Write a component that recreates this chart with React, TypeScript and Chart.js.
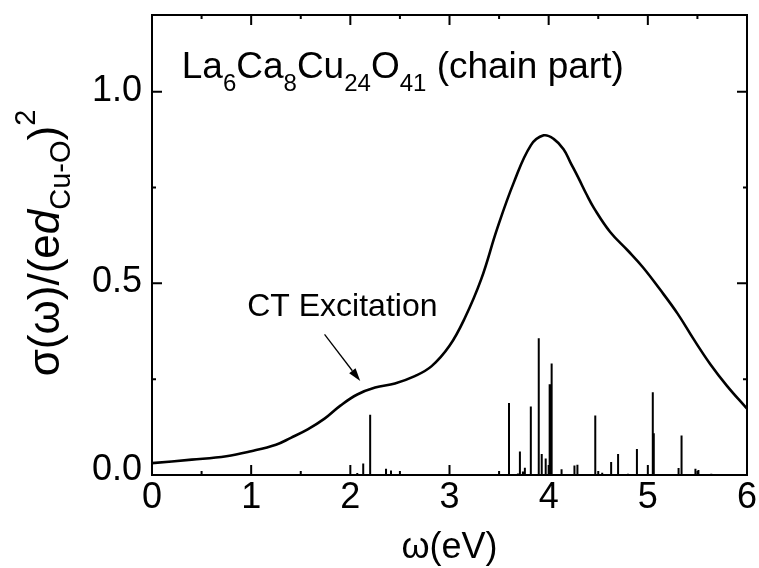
import { useEffect, useRef } from "react";
import { Chart, registerables } from "chart.js";

Chart.register(...registerables);

// Calculated optical conductivity (smooth curve)
const curveX = [0, 0.4, 0.75, 1.0, 1.25, 1.4, 1.57, 1.74, 1.9, 2.07, 2.25, 2.45, 2.65, 2.82, 3.0, 3.15, 3.32, 3.48, 3.65, 3.82, 3.95, 4.05, 4.15, 4.22, 4.3, 4.38, 4.46, 4.62, 4.8, 4.95, 5.12, 5.3, 5.46, 5.63, 5.8, 6.0];
const curveY = [0.031, 0.04, 0.049, 0.062, 0.079, 0.097, 0.119, 0.147, 0.181, 0.21, 0.228, 0.239, 0.258, 0.284, 0.337, 0.407, 0.511, 0.642, 0.764, 0.86, 0.886, 0.877, 0.85, 0.815, 0.775, 0.733, 0.695, 0.634, 0.585, 0.542, 0.485, 0.421, 0.355, 0.289, 0.232, 0.173];

// Oscillator strengths (stick spectrum)
const stickX = [2.07, 2.13, 2.2, 2.36, 2.41, 3.6, 3.69, 3.71, 3.74, 3.76, 3.82, 3.9, 3.93, 3.97, 4.01, 4.03, 4.13, 4.26, 4.29, 4.47, 4.54, 4.63, 4.7, 4.8, 4.89, 5.05, 5.06, 5.31, 5.34, 5.48, 5.51, 5.64, 5.78];
const stickY = [0.005, 0.03, 0.157, 0.016, 0.012, 0.188, 0.004, 0.061, 0.009, 0.019, 0.179, 0.357, 0.055, 0.043, 0.237, 0.291, 0.015, 0.025, 0.027, 0.155, 0.006, 0.034, 0.055, 0.003, 0.068, 0.216, 0.109, 0.018, 0.103, 0.016, 0.013, 0.003, 0.002];

const xTicks = [0, 1, 2, 3, 4, 5, 6];
const yTicks = [0, 0.5, 1.0];

// Annotation anchors (data coordinates)
const ctLabel = { text: "CT Excitation", x: 0.96, y: 0.415 };
const arrowFrom = { x: 1.74, y: 0.367 };
const arrowTo = { x: 2.1, y: 0.245 };
const titleAnchor = { x: 0.3, y: 1.035 };

const FONT = "'Liberation Sans', Arial, Helvetica, sans-serif";

type Part = { t: string; size: number; dy: number; italic?: boolean };

function partsWidth(ctx: CanvasRenderingContext2D, parts: Part[]) {
  let w = 0;
  for (const p of parts) {
    ctx.font = `${p.italic ? "italic " : ""}${p.size}px ${FONT}`;
    w += ctx.measureText(p.t).width;
  }
  return w;
}

function drawParts(ctx: CanvasRenderingContext2D, parts: Part[], x: number, y: number) {
  let cx = x;
  for (const p of parts) {
    ctx.font = `${p.italic ? "italic " : ""}${p.size}px ${FONT}`;
    ctx.fillText(p.t, cx, y + p.dy);
    cx += ctx.measureText(p.t).width;
  }
}

const decor = {
  id: "decor",
  afterDraw(chart: any) {
    const { ctx, chartArea: a } = chart;
    const xs = chart.scales.x;
    const ys = chart.scales.y;
    ctx.save();
    ctx.strokeStyle = "#000";
    ctx.fillStyle = "#000";
    ctx.lineWidth = 2;
    ctx.strokeRect(a.left, a.top, a.right - a.left, a.bottom - a.top);

    // inward ticks
    ctx.beginPath();
    for (let v = 0.5; v < 6; v += 0.5) {
      const px = xs.getPixelForValue(v);
      const len = Number.isInteger(v) ? 10 : 4;
      ctx.moveTo(px, a.bottom);
      ctx.lineTo(px, a.bottom - len);
      ctx.moveTo(px, a.top);
      ctx.lineTo(px, a.top + len);
    }
    for (let v = 0.25; v <= 1.0001; v += 0.25) {
      const py = ys.getPixelForValue(v);
      const len = Math.abs(v * 2 - Math.round(v * 2)) < 1e-6 ? 10 : 4;
      ctx.moveTo(a.left, py);
      ctx.lineTo(a.left + len, py);
      ctx.moveTo(a.right, py);
      ctx.lineTo(a.right - len, py);
    }
    ctx.stroke();

    // tick labels
    ctx.font = `36px ${FONT}`;
    ctx.textAlign = "center";
    ctx.textBaseline = "middle";
    for (const v of xTicks) {
      ctx.fillText(String(v), xs.getPixelForValue(v), a.bottom + 23);
    }
    ctx.textAlign = "right";
    for (const v of yTicks) {
      ctx.fillText(v.toFixed(1), a.left - 10, ys.getPixelForValue(v) - (v === 0 ? 5 : 1));
    }

    // title inside plot
    ctx.textAlign = "left";
    ctx.textBaseline = "alphabetic";
    const tParts: Part[] = [
      { t: "La", size: 37, dy: 0 },
      { t: "6", size: 24, dy: 13 },
      { t: "Ca", size: 37, dy: 0 },
      { t: "8", size: 24, dy: 13 },
      { t: "Cu", size: 37, dy: 0 },
      { t: "24", size: 24, dy: 13 },
      { t: "O", size: 37, dy: 0 },
      { t: "41", size: 24, dy: 13 },
      { t: " (chain part)", size: 37, dy: 0 },
    ];
    drawParts(ctx, tParts, xs.getPixelForValue(titleAnchor.x), ys.getPixelForValue(titleAnchor.y));

    // CT label
    ctx.font = `32px ${FONT}`;
    ctx.fillText(ctLabel.text, xs.getPixelForValue(ctLabel.x), ys.getPixelForValue(ctLabel.y));

    // arrow
    const x1 = xs.getPixelForValue(arrowFrom.x), y1 = ys.getPixelForValue(arrowFrom.y);
    const x2 = xs.getPixelForValue(arrowTo.x), y2 = ys.getPixelForValue(arrowTo.y);
    const ang = Math.atan2(y2 - y1, x2 - x1);
    const hl = 13, hw = 4;
    ctx.lineWidth = 1.3;
    ctx.beginPath();
    ctx.moveTo(x1, y1);
    ctx.lineTo(x2 - hl * Math.cos(ang), y2 - hl * Math.sin(ang));
    ctx.stroke();
    ctx.beginPath();
    ctx.moveTo(x2, y2);
    ctx.lineTo(x2 - hl * Math.cos(ang) + hw * Math.sin(ang), y2 - hl * Math.sin(ang) - hw * Math.cos(ang));
    ctx.lineTo(x2 - hl * Math.cos(ang) - hw * Math.sin(ang), y2 - hl * Math.sin(ang) + hw * Math.cos(ang));
    ctx.closePath();
    ctx.fill();

    // x axis title
    ctx.textAlign = "center";
    ctx.font = `36px ${FONT}`;
    ctx.fillText("ω(eV)", (a.left + a.right) / 2, 558);

    // y axis title (rotated)
    const yParts: Part[] = [
      { t: "σ(ω)/(e", size: 44, dy: 0 },
      { t: "d", size: 44, dy: 0, italic: true },
      { t: "Cu-O", size: 29, dy: 11 },
      { t: ")", size: 44, dy: 0 },
      { t: "2", size: 29, dy: -24 },
    ];
    ctx.textAlign = "left";
    const w = partsWidth(ctx, yParts);
    ctx.translate(59, 243);
    ctx.rotate(-Math.PI / 2);
    drawParts(ctx, yParts, -w / 2, 0);
    ctx.restore();
  },
};

export default function App() {
  const ref = useRef<HTMLCanvasElement | null>(null);
  useEffect(() => {
    document.body.style.margin = "0";
    const canvas = ref.current!;
    const stickData: { x: number; y: number | null }[] = [];
    stickX.forEach((sx, i) => {
      stickData.push({ x: sx, y: 0 });
      stickData.push({ x: sx, y: stickY[i] });
      stickData.push({ x: sx, y: null });
    });
    const chart = new Chart(canvas, {
      type: "scatter",
      data: {
        datasets: [
          {
            data: stickData as any,
            showLine: true,
            spanGaps: false,
            borderColor: "#000",
            borderWidth: 2,
            borderCapStyle: "butt",
            pointRadius: 0,
          } as any,
          {
            data: curveX.map((x, i) => ({ x, y: curveY[i] })),
            showLine: true,
            borderColor: "#000",
            borderWidth: 2.6,
            pointRadius: 0,
            tension: 0.4,
          } as any,
        ],
      },
      options: {
        animation: false,
        responsive: false,
        layout: { padding: { left: 0, top: 15, right: 12, bottom: 0 } },
        plugins: { legend: { display: false }, tooltip: { enabled: false } },
        scales: {
          x: {
            type: "linear",
            min: 0,
            max: 6,
            grid: { display: false, drawTicks: false },
            border: { display: false },
            ticks: { display: false },
            afterFit: (s: any) => {
              s.height = 93;
            },
          },
          y: {
            type: "linear",
            min: 0,
            max: 1.2,
            grid: { display: false, drawTicks: false },
            border: { display: false },
            ticks: { display: false },
            afterFit: (s: any) => {
              s.width = 152;
            },
          },
        },
      },
      plugins: [decor],
    });
    return () => chart.destroy();
  }, []);
  return (
    <div style={{ position: "fixed", left: 0, top: 0, width: 759, height: 568, background: "#fff" }}>
      <canvas ref={ref} width={759} height={568} />
    </div>
  );
}
